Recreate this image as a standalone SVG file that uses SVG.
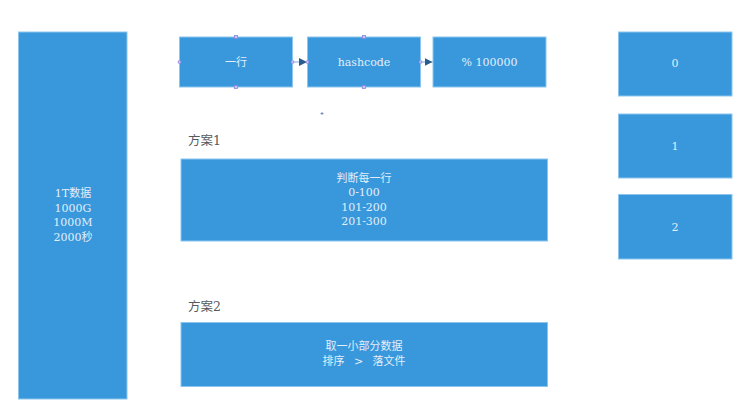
<svg xmlns="http://www.w3.org/2000/svg" width="751" height="417" viewBox="0 0 751 417">
<defs>
<style>
.box{fill:#3898db;stroke:#8cc6f0;stroke-width:1}
.t{font-family:"DejaVu Serif","Noto Sans CJK SC",serif;font-size:11px;fill:#e3eefa;text-anchor:middle;dominant-baseline:central}
.lbl{font-family:"DejaVu Serif","Noto Sans CJK SC",serif;font-size:12.5px;fill:#555a60;dominant-baseline:central}
.h{fill:#c9c3f5;stroke:#8f86e0;stroke-width:0.8}
.c{stroke:#7aaee0;stroke-width:1;fill:none}
</style>
<marker id="ah" viewBox="0 0 10 10" refX="10" refY="5" markerWidth="8" markerHeight="8" markerUnits="userSpaceOnUse" orient="auto">
<path d="M0,0 L10,5 L0,10 Z" fill="#2a5d8c"/>
</marker>
</defs>
<rect width="751" height="417" fill="#ffffff"/>
<g id="big">
<rect class="box" x="18.5" y="32" width="108.5" height="367"/>
<text class="t" x="73" y="193">1T数据</text>
<text class="t" x="73" y="208">1000G</text>
<text class="t" x="73" y="222">1000M</text>
<text class="t" x="73" y="237">2000秒</text>
</g>
<g id="row">
<rect class="box" x="179.5" y="37" width="113" height="50"/>
<text class="t" x="236" y="62">一行</text>
</g>
<g id="hashcode">
<rect class="box" x="307.5" y="37" width="113" height="50"/>
<text class="t" x="364" y="62">hashcode</text>
</g>
<g id="mod">
<rect class="box" x="433" y="37" width="113" height="50"/>
<text class="t" x="489.5" y="62">% 100000</text>
</g>
<g id="b0">
<rect class="box" x="618.5" y="32" width="113.5" height="64"/>
<text class="t" x="675" y="63">0</text>
</g>
<g id="b1">
<rect class="box" x="618.5" y="114" width="113.5" height="64"/>
<text class="t" x="675" y="146">1</text>
</g>
<g id="b2">
<rect class="box" x="618.5" y="194.5" width="113.5" height="64.5"/>
<text class="t" x="675" y="227">2</text>
</g>
<g id="plan1-label">
<text class="lbl" x="188" y="140">方案1</text>
</g>
<g id="plan1">
<rect class="box" x="181" y="159" width="366.5" height="82"/>
<text class="t" x="364" y="178">判断每一行</text>
<text class="t" x="364" y="192.5">0-100</text>
<text class="t" x="364" y="207">101-200</text>
<text class="t" x="364" y="221.5">201-300</text>
</g>
<g id="plan2-label">
<text class="lbl" x="188" y="306">方案2</text>
</g>
<g id="plan2">
<rect class="box" x="181" y="322.5" width="366.5" height="64"/>
<text class="t" x="364" y="346">取一小部分数据</text>
<text class="t" x="364" y="361" word-spacing="6">排序 &gt; 落文件</text>
</g>
<g id="connectors">
<line class="c" x1="292.5" y1="62" x2="307" y2="62" marker-end="url(#ah)"/>
<line class="c" x1="420.5" y1="62" x2="432.5" y2="62" marker-end="url(#ah)"/>
</g>
<g id="handles">
<rect class="h" x="234.5" y="35.5" width="3" height="3"/>
<rect class="h" x="234.5" y="85.5" width="3" height="3"/>
<circle class="h" cx="179.5" cy="62" r="1.5"/>
<circle class="h" cx="292.5" cy="62" r="1.5"/>
<rect class="h" x="362.5" y="35.5" width="3" height="3"/>
<rect class="h" x="362.5" y="85.5" width="3" height="3"/>
<circle class="h" cx="307.5" cy="62" r="1.5"/>
<circle class="h" cx="420.5" cy="62" r="1.5"/>
<path d="M320.5,113.5 h3 M322,112 v3" stroke="#5a7fb5" stroke-width="0.8"/>
</g>
</svg>
